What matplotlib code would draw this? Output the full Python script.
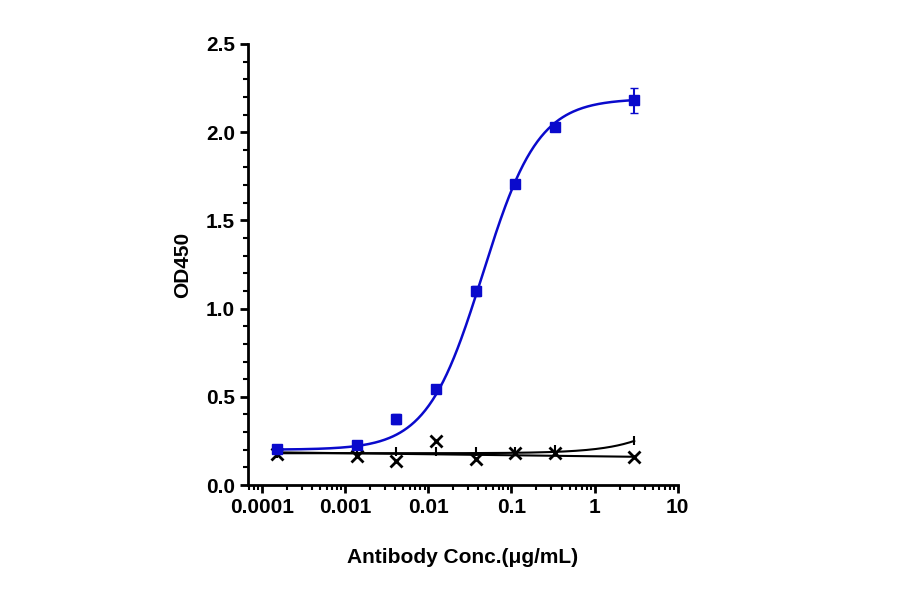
import numpy as np
import matplotlib.pyplot as plt
from matplotlib.ticker import MultipleLocator, LogLocator, NullFormatter

plt.rcParams['font.family'] = ['Liberation Sans', 'DejaVu Sans']

# Data
conc = [0.000152, 0.00137, 0.0041, 0.0123, 0.037, 0.111, 0.333, 3.0]
od_blue = [0.204, 0.227, 0.374, 0.544, 1.10, 1.706, 2.03, 2.18]
err_blue = [0.01, 0.01, 0.03, 0.01, 0.03, 0.01, 0.01, 0.07]
od_x = [0.175, 0.164, 0.136, 0.25, 0.147, 0.18, 0.18, 0.16]
od_bar = [0.18, 0.185, 0.19, 0.19, 0.19, 0.19, 0.2, 0.25]

xs = np.logspace(np.log10(conc[0]), np.log10(conc[-1]), 300)

def fourpl(x, bottom, top, ec50, hill):
    return bottom + (top - bottom) / (1 + (ec50 / x) ** hill)

fig = plt.figure(figsize=(9, 5.94), dpi=100)
ax = fig.add_axes([0.276, 0.1835, 0.477, 0.7425])

blue = '#0a0acc'
ax.plot(xs, fourpl(xs, 0.2, 2.19, 0.045, 1.3), color=blue, lw=1.8, zorder=3)
ax.errorbar(conc, od_blue, yerr=err_blue, fmt='s', color=blue, ms=7, capsize=3, lw=1.5, zorder=4)

ax.plot(xs, 0.185 - 0.025 * (np.log10(xs) - np.log10(conc[0])) / (np.log10(conc[-1]) - np.log10(conc[0])),
        color='black', lw=1.5)
ax.plot(conc, od_x, 'x', color='black', ms=8, mew=2)

ax.plot(xs, 0.18 + 0.07 * xs / 3, color='black', lw=1.5)
ax.errorbar(conc, od_bar, yerr=0.025, fmt='none', ecolor='black', capsize=0, lw=1.5)

ax.set_xscale('log')
ax.set_xlim(10 ** -4.165, 10)
ax.set_ylim(0, 2.5)
ax.set_xticks([1e-4, 1e-3, 1e-2, 0.1, 1, 10])
ax.set_xticklabels(['0.0001', '0.001', '0.01', '0.1', '1', '10'])
ax.xaxis.set_minor_locator(LogLocator(base=10, subs=np.arange(2, 10), numticks=20))
ax.xaxis.set_minor_formatter(NullFormatter())
ax.set_yticks(np.arange(0, 2.51, 0.5))
ax.set_yticklabels([f'{v:.1f}' for v in np.arange(0, 2.51, 0.5)])
ax.yaxis.set_minor_locator(MultipleLocator(0.1))

for s in ['top', 'right']:
    ax.spines[s].set_visible(False)
for s in ['left', 'bottom']:
    ax.spines[s].set_linewidth(2)

ax.tick_params(axis='both', which='major', length=6, width=2, labelsize=15)
ax.tick_params(axis='both', which='minor', length=3.5, width=1.5)
for lab in ax.get_xticklabels() + ax.get_yticklabels():
    lab.set_fontweight('bold')

ax.set_xlabel('Antibody Conc.(μg/mL)', fontsize=15, fontweight='bold', labelpad=22)
ax.set_ylabel('OD450', fontsize=15, fontweight='bold', labelpad=10)

fig.savefig('out.png', dpi=100)
